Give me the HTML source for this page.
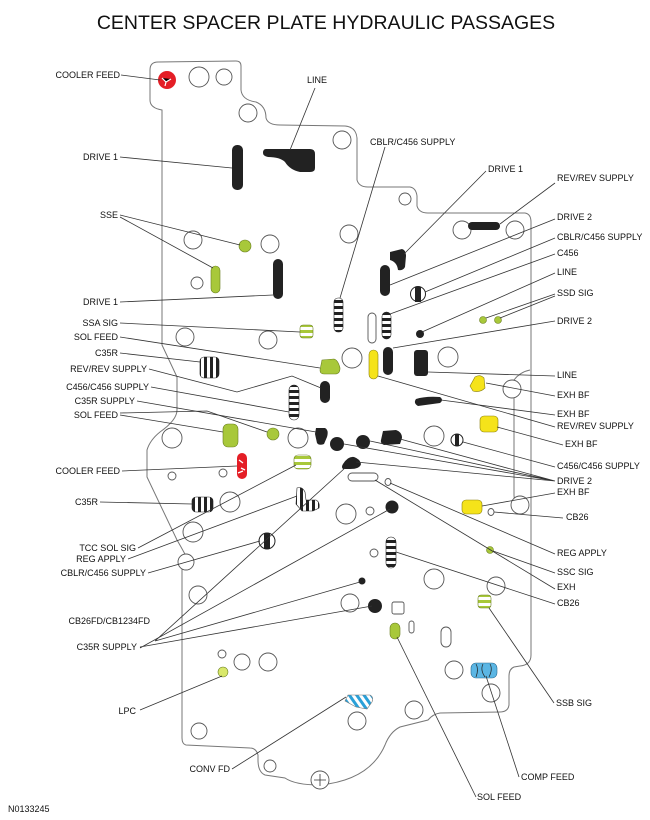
<!DOCTYPE html>
<html><head><meta charset="utf-8"><style>
body{margin:0;background:#fff;}
svg{display:block;}
text{font-family:"Liberation Sans",Arial,sans-serif;font-size:9px;fill:#111;}
.t{font-size:19.5px;}
.o{fill:none;stroke:#777;stroke-width:1;}
.c{fill:#fff;stroke:#555;stroke-width:0.9;}
.l{stroke:#333;stroke-width:0.8;fill:none;}
.k{fill:#222;}
.g{fill:#a8c83a;stroke:#6a7f20;stroke-width:0.6;}
.y{fill:#f5e31a;stroke:#8a8010;stroke-width:0.6;}
</style></head><body>
<svg width="650" height="820" viewBox="0 0 650 820" xmlns="http://www.w3.org/2000/svg">
<defs>
<pattern id="hs" width="6" height="6" patternUnits="userSpaceOnUse"><rect width="6" height="3" fill="#222"/><rect y="3" width="6" height="3" fill="#fff"/></pattern>
<pattern id="vs" width="6" height="6" patternUnits="userSpaceOnUse"><rect width="3" height="6" fill="#222"/><rect x="3" width="3" height="6" fill="#fff"/></pattern>
<pattern id="gs" width="6" height="6" patternUnits="userSpaceOnUse"><rect width="6" height="3" fill="#a8c83a"/><rect y="3" width="6" height="3" fill="#fff"/></pattern>
<pattern id="bs" width="6" height="6" patternUnits="userSpaceOnUse" patternTransform="rotate(-35)"><rect width="3" height="6" fill="#2aa0d8"/><rect x="3" width="3" height="6" fill="#fff"/></pattern>
</defs>
<text class="t" x="326" y="29" text-anchor="middle">CENTER SPACER PLATE HYDRAULIC PASSAGES</text>

<!-- plate outline -->
<path class="o" d="M158,62 L236,61 Q241,61 241,66 L241,90 Q242,100 256,102 Q266,106 266,118 Q268,125 280,125 L345,126 Q356,127 357,138 L357,180 Q359,187 368,187 L410,187 Q416,188 417,196 L417,206 Q419,213 428,213 L525,213 Q531,214 531,222 L531,655 Q531,665 520,666 L514,667 Q509,669 509,676 L509,705 Q508,712 500,712 L440,713 Q433,714 428,720 L400,727 Q390,732 385,745 Q370,780 320,785 Q295,785 285,778 L265,775 Q258,772 258,760 L258,755 Q256,748 250,748 L186,745 Q182,744 182,738 L182,570 Q182,562 186,556 Q180,545 177,540 L147,477 L147,450 Q150,440 160,432 Q177,420 177,410 L177,377 L162,345 L162,110 Q150,108 150,100 L150,70 Q150,62 158,62 Z"/>
<path class="o" d="M530,370 Q520,372 514,380 L514,495 Q514,505 524,505"/>

<!-- outline circles -->
<g class="c">
<circle cx="199" cy="77" r="10"/><circle cx="224" cy="77" r="8"/><circle cx="248" cy="113" r="9"/>
<circle cx="342" cy="140" r="9"/><circle cx="405" cy="199" r="6"/><circle cx="349" cy="234" r="9"/>
<circle cx="462" cy="230" r="9"/><circle cx="515" cy="230" r="9"/><circle cx="193" cy="240" r="9"/>
<circle cx="270" cy="244" r="9"/><circle cx="197" cy="283" r="6"/><circle cx="185" cy="337" r="9"/>
<circle cx="268" cy="340" r="9"/><circle cx="352" cy="358" r="10"/><circle cx="448" cy="357" r="10"/>
<circle cx="512" cy="389" r="9"/><circle cx="172" cy="438" r="10"/><circle cx="298" cy="438" r="10"/>
<circle cx="434" cy="436" r="10"/><circle cx="172" cy="476" r="4"/><circle cx="223" cy="473" r="4"/>
<circle cx="230" cy="502" r="10"/><circle cx="520" cy="505" r="9"/><circle cx="346" cy="514" r="10"/>
<circle cx="370" cy="511" r="4"/><circle cx="193" cy="532" r="10"/><circle cx="186" cy="562" r="8"/>
<circle cx="374" cy="553" r="4"/><circle cx="434" cy="579" r="10"/><circle cx="496" cy="586" r="9"/>
<circle cx="198" cy="595" r="9"/><circle cx="350" cy="603" r="9"/><circle cx="222" cy="654" r="4"/>
<circle cx="242" cy="662" r="8"/><circle cx="268" cy="662" r="9"/><circle cx="454" cy="670" r="9"/>
<circle cx="491" cy="693" r="9"/><circle cx="357" cy="721" r="9"/><circle cx="414" cy="710" r="9"/>
<circle cx="199" cy="731" r="8"/><circle cx="270" cy="766" r="6"/><circle cx="320" cy="780" r="9"/>
</g>
<path d="M320,774 V786 M314,780 H326" stroke="#333" stroke-width="0.8"/>
<rect class="c" x="368" y="313" width="8" height="30" rx="4"/>
<rect class="c" x="348" y="473" width="30" height="8" rx="4"/>
<rect class="c" x="392" y="602" width="12" height="12" rx="2"/>
<rect class="c" x="409" y="621" width="5" height="12" rx="2.5"/>
<rect class="c" x="441" y="627" width="10" height="20" rx="5"/>
<ellipse class="c" cx="388" cy="482" rx="3" ry="3.5"/>
<ellipse class="c" cx="491" cy="512" rx="3" ry="3.5"/>

<!-- passages -->
<circle cx="167" cy="80" r="9" fill="#e41e26"/>
<path d="M162,78 L166,82 L171,79 M166,82 L165,86" stroke="#fff" stroke-width="1.2"/>
<rect class="k" x="232" y="145" width="11" height="45" rx="5"/>
<path class="k" d="M266,149 L310,149 Q315,149 315,154 L315,168 Q315,172 310,172 L300,172 Q290,170 285,162 Q280,157 268,157 Q263,156 263,153 Q263,149 266,149Z"/>
<circle class="g" cx="245" cy="246" r="6"/>
<rect class="g" x="211" y="266" width="9" height="27" rx="4.5"/>
<rect class="k" x="273" y="259" width="10" height="40" rx="5"/>
<rect fill="url(#hs)" stroke="#222" stroke-width="0.6" x="334" y="298" width="9" height="34" rx="4"/>
<rect fill="url(#gs)" stroke="#6a7f20" stroke-width="0.6" x="300" y="325" width="13" height="13" rx="3"/>
<path class="g" d="M322,360 L334,359 Q338,360 340,368 Q340,374 335,374 L324,374 Q320,374 320,370 Z"/>
<rect fill="url(#vs)" stroke="#222" stroke-width="0.6" x="200" y="357" width="19" height="21" rx="4"/>
<rect class="k" x="320" y="381" width="10" height="22" rx="5"/>
<rect fill="url(#hs)" stroke="#222" stroke-width="0.6" x="289" y="385" width="10" height="35" rx="5"/>
<path class="k" d="M316,428 L325,428 Q329,430 327,437 L324,444 Q319,446 317,443 L315,434 Z"/>
<rect class="g" x="223" y="424" width="15" height="23" rx="5"/>
<circle class="g" cx="273" cy="434" r="6"/>
<rect x="237" y="453" width="10" height="26" rx="5" fill="#e41e26"/>
<path d="M239,460 l4,3 M241,468 l4,2 M238,473 l5,-2" stroke="#fff" stroke-width="1.3"/>
<rect fill="url(#vs)" stroke="#222" stroke-width="0.6" x="192" y="497" width="21" height="15" rx="4"/>
<rect fill="url(#gs)" stroke="#6a7f20" stroke-width="0.6" x="294" y="455" width="17" height="14" rx="4"/>
<path fill="url(#vs)" stroke="#222" stroke-width="0.6" d="M297,488 Q302,486 305,492 L306,500 L316,500 Q320,502 319,508 L313,511 L302,511 L296,504 Z"/>
<circle cx="267" cy="541" r="8" fill="#fff" stroke="#222"/><rect x="264" y="533" width="6" height="16" fill="#222"/>
<circle class="k" cx="337" cy="444" r="7"/><circle class="k" cx="363" cy="442" r="7"/>
<path class="k" d="M383,431 L396,430 Q402,432 402,438 L400,444 L384,445 Q380,443 381,440 Z"/>
<path class="k" d="M343,464 Q348,456 354,457 Q360,459 361,464 Q360,469 350,469 L343,469 Q341,467 343,464Z"/>
<circle class="k" cx="392" cy="507" r="6.5"/>
<rect fill="url(#hs)" stroke="#222" stroke-width="0.6" x="386" y="537" width="10" height="31" rx="5"/>
<circle class="k" cx="362" cy="581" r="3.5"/>
<circle class="k" cx="375" cy="606" r="7"/>
<rect class="g" x="390" y="623" width="10" height="16" rx="5"/>
<circle cx="223" cy="672" r="5" fill="#d9e86a" stroke="#6a7f20" stroke-width="0.6"/>
<path fill="url(#bs)" stroke="#777" stroke-width="0.6" d="M348,695 L370,695 Q374,697 372,702 L367,709 L356,707 L345,701 Z"/>
<rect x="471" y="663" width="26" height="15" rx="5" fill="#5bb6e4" stroke="#2a6a90" stroke-width="0.6"/>
<path d="M476,664 q3,5 0,13 M483,664 q-3,6 2,13 M490,664 q3,5 -1,13" stroke="#222" stroke-width="0.7" fill="none"/>
<rect fill="url(#gs)" stroke="#6a7f20" stroke-width="0.6" x="478" y="595" width="13" height="13" rx="3"/>
<circle class="g" cx="490" cy="550" r="3.5"/>
<rect class="y" x="462" y="500" width="20" height="14" rx="4"/>
<rect class="y" x="480" y="416" width="18" height="16" rx="4"/>
<path class="y" d="M475,377 Q480,374 484,378 L485,388 Q480,393 473,391 L470,386 Z"/>
<rect class="y" x="369" y="350" width="9" height="29" rx="4.5"/>
<path class="k" d="M416,399 Q425,396 440,397 Q444,400 440,403 L418,406 Q413,403 416,399Z"/>
<rect class="k" x="414" y="350" width="14" height="26" rx="3"/>
<rect class="k" x="383" y="347" width="10" height="28" rx="5"/>
<circle class="g" cx="483" cy="320" r="3.5"/><circle class="g" cx="498" cy="320" r="3.5"/>
<circle class="k" cx="420" cy="334" r="4"/>
<rect fill="url(#hs)" stroke="#222" stroke-width="0.6" x="382" y="312" width="9" height="27" rx="4.5"/>
<circle cx="418" cy="294" r="7.5" fill="#fff" stroke="#222"/><rect x="415" y="287" width="6" height="15" fill="#222"/>
<rect class="k" x="380" y="265" width="10" height="31" rx="5"/>
<path class="k" d="M390,252 L402,249 Q406,250 406,256 L405,267 Q403,271 398,270 Q397,262 390,260 Z"/>
<rect class="k" x="468" y="222" width="32" height="8" rx="4"/>
<circle cx="457" cy="440" r="6" fill="#fff" stroke="#222"/><rect x="455" y="434" width="4" height="12" fill="#222"/>

<!-- leader lines -->
<g class="l">
<path d="M121,75 L160,80"/>
<path d="M120,157 L232,168"/>
<path d="M315,88 L290,150"/>
<path d="M120,215 L240,245 M120,217 L213,268"/>
<path d="M120,302 L273,295"/>
<path d="M120,323 L300,332"/>
<path d="M120,337 L320,368"/>
<path d="M120,353 L200,362"/>
<path d="M149,369 L237,392 L292,376 L321,388"/>
<path d="M151,387 L289,412"/>
<path d="M137,401 L316,432"/>
<path d="M120,415 L223,432 M120,413 L207,411 L267,432"/>
<path d="M122,471 L237,466"/>
<path d="M100,502 L192,504"/>
<path d="M138,548 L296,465"/>
<path d="M128,559 L297,496"/>
<path d="M148,573 L260,541"/>
<path d="M155,641 L360,582 M155,641 L345,468"/>
<path d="M140,647 L372,606 M140,648 L390,509"/>
<path d="M140,710 L222,676"/>
<path d="M232,769 L346,697"/>
<path d="M385,147 L340,298"/>
<path d="M486,171 L404,254"/>
<path d="M555,183 L500,224"/>
<path d="M555,219 L390,285"/>
<path d="M555,238 L425,292"/>
<path d="M555,254 L390,314"/>
<path d="M555,273 L422,332"/>
<path d="M555,294 L486,318 M555,296 L500,318"/>
<path d="M555,321 L393,348"/>
<path d="M555,376 L428,372"/>
<path d="M555,396 L486,383"/>
<path d="M555,415 L441,400"/>
<path d="M555,427 L378,376"/>
<path d="M563,445 L497,427"/>
<path d="M555,467 L463,442"/>
<path d="M555,481 L344,444 M555,481 L370,441 M555,481 L400,439 M555,481 L356,462"/>
<path d="M555,493 L482,506"/>
<path d="M563,518 L494,512"/>
<path d="M555,554 L390,483"/>
<path d="M555,573 L493,551"/>
<path d="M555,589 L375,480"/>
<path d="M555,604 L396,552"/>
<path d="M554,703 L489,608"/>
<path d="M519,777 L486,676"/>
<path d="M476,797 L397,637"/>
</g>

<!-- labels -->
<g>
<text x="120" y="78" text-anchor="end">COOLER FEED</text>
<text x="118" y="160" text-anchor="end">DRIVE 1</text>
<text x="307" y="83">LINE</text>
<text x="118" y="218" text-anchor="end">SSE</text>
<text x="118" y="305" text-anchor="end">DRIVE 1</text>
<text x="118" y="326" text-anchor="end">SSA SIG</text>
<text x="118" y="340" text-anchor="end">SOL FEED</text>
<text x="118" y="356" text-anchor="end">C35R</text>
<text x="147" y="372" text-anchor="end">REV/REV SUPPLY</text>
<text x="149" y="390" text-anchor="end">C456/C456 SUPPLY</text>
<text x="135" y="404" text-anchor="end">C35R SUPPLY</text>
<text x="118" y="418" text-anchor="end">SOL FEED</text>
<text x="120" y="474" text-anchor="end">COOLER FEED</text>
<text x="98" y="505" text-anchor="end">C35R</text>
<text x="136" y="551" text-anchor="end">TCC SOL SIG</text>
<text x="126" y="562" text-anchor="end">REG APPLY</text>
<text x="146" y="576" text-anchor="end">CBLR/C456 SUPPLY</text>
<text x="150" y="624" text-anchor="end">CB26FD/CB1234FD</text>
<text x="137" y="650" text-anchor="end">C35R SUPPLY</text>
<text x="136" y="714" text-anchor="end">LPC</text>
<text x="230" y="772" text-anchor="end">CONV FD</text>
<text x="370" y="145">CBLR/C456 SUPPLY</text>
<text x="488" y="172">DRIVE 1</text>
<text x="557" y="181">REV/REV SUPPLY</text>
<text x="557" y="220">DRIVE 2</text>
<text x="557" y="240">CBLR/C456 SUPPLY</text>
<text x="557" y="256">C456</text>
<text x="557" y="275">LINE</text>
<text x="557" y="296">SSD SIG</text>
<text x="557" y="324">DRIVE 2</text>
<text x="557" y="378">LINE</text>
<text x="557" y="398">EXH BF</text>
<text x="557" y="417">EXH BF</text>
<text x="557" y="429">REV/REV SUPPLY</text>
<text x="565" y="447">EXH BF</text>
<text x="557" y="469">C456/C456 SUPPLY</text>
<text x="557" y="484">DRIVE 2</text>
<text x="557" y="495">EXH BF</text>
<text x="566" y="520">CB26</text>
<text x="557" y="556">REG APPLY</text>
<text x="557" y="575">SSC SIG</text>
<text x="557" y="590">EXH</text>
<text x="557" y="606">CB26</text>
<text x="556" y="706">SSB SIG</text>
<text x="521" y="780">COMP FEED</text>
<text x="477" y="800">SOL FEED</text>
<text x="8" y="812">N0133245</text>
</g>
</svg>
</body></html>
